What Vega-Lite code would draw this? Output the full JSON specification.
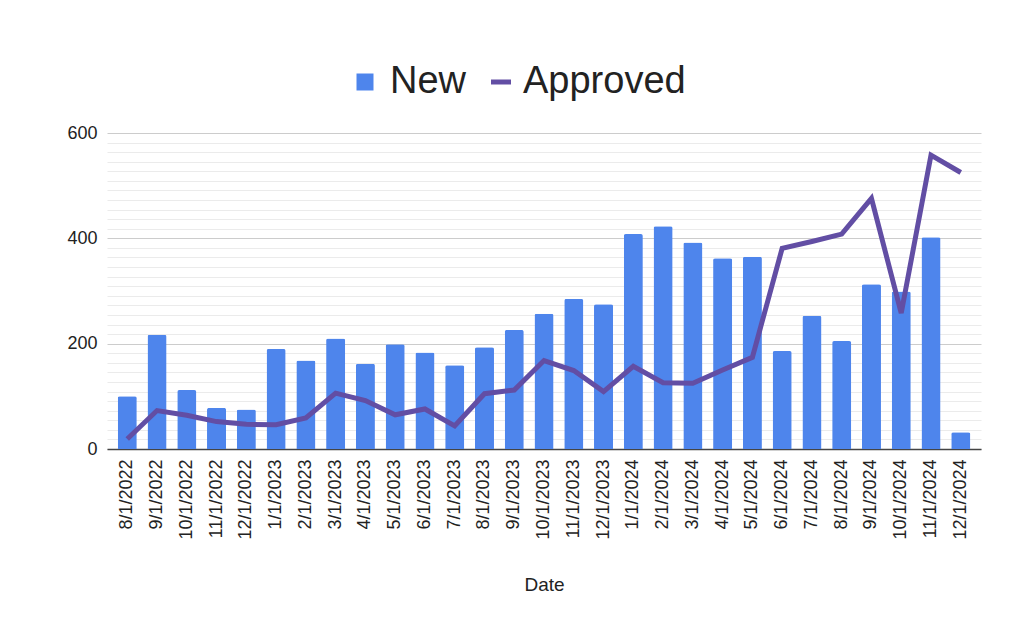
{
  "$schema": "https://vega.github.io/schema/vega-lite/v6.json",
  "width": 874,
  "height": 316,
  "autosize": {"type": "none"},
  "padding": {"left": 107, "top": 133, "right": 43, "bottom": 189},
  "background": "white",
  "data": {
    "values": [
      {"date": "8/1/2022", "New": 100, "Approved": 19},
      {"date": "9/1/2022", "New": 217, "Approved": 73},
      {"date": "10/1/2022", "New": 112, "Approved": 64},
      {"date": "11/1/2022", "New": 78, "Approved": 52},
      {"date": "12/1/2022", "New": 75, "Approved": 47},
      {"date": "1/1/2023", "New": 190, "Approved": 46},
      {"date": "2/1/2023", "New": 168, "Approved": 59},
      {"date": "3/1/2023", "New": 210, "Approved": 106},
      {"date": "4/1/2023", "New": 162, "Approved": 92},
      {"date": "5/1/2023", "New": 199, "Approved": 65},
      {"date": "6/1/2023", "New": 183, "Approved": 76},
      {"date": "7/1/2023", "New": 159, "Approved": 44},
      {"date": "8/1/2023", "New": 193, "Approved": 105},
      {"date": "9/1/2023", "New": 226, "Approved": 112},
      {"date": "10/1/2023", "New": 257, "Approved": 168},
      {"date": "11/1/2023", "New": 285, "Approved": 149},
      {"date": "12/1/2023", "New": 275, "Approved": 109},
      {"date": "1/1/2024", "New": 408, "Approved": 157},
      {"date": "2/1/2024", "New": 423, "Approved": 126},
      {"date": "3/1/2024", "New": 392, "Approved": 125},
      {"date": "4/1/2024", "New": 362, "Approved": 150},
      {"date": "5/1/2024", "New": 365, "Approved": 174},
      {"date": "6/1/2024", "New": 186, "Approved": 381},
      {"date": "7/1/2024", "New": 253, "Approved": 394},
      {"date": "8/1/2024", "New": 205, "Approved": 408},
      {"date": "9/1/2024", "New": 313, "Approved": 476},
      {"date": "10/1/2024", "New": 299, "Approved": 258},
      {"date": "11/1/2024", "New": 402, "Approved": 558},
      {"date": "12/1/2024", "New": 32, "Approved": 525}
    ]
  },
  "encoding": {
    "x": {
      "field": "date",
      "type": "ordinal",
      "sort": null,
      "title": "Date",
      "scale": {"paddingInner": 0.36, "paddingOuter": 0.36},
      "axis": {
        "labelAngle": 270,
        "labelAlign": "right",
        "labelBaseline": "middle",
        "labelPadding": 10,
        "labelFontSize": 18,
        "labelColor": "#222222",
        "ticks": false,
        "domainColor": "#444444",
        "domainWidth": 1.5,
        "titleFontSize": 19,
        "titleFontWeight": "normal",
        "titleColor": "#222222",
        "titlePadding": 36,
        "grid": false
      }
    }
  },
  "layer": [
    {
      "mark": {
        "type": "bar",
        "cornerRadiusTopLeft": 2,
        "cornerRadiusTopRight": 2
      },
      "encoding": {
        "y": {
          "field": "New",
          "type": "quantitative",
          "title": null,
          "scale": {"domain": [0, 600], "nice": false},
          "axis": {
            "domain": false,
            "ticks": false,
            "labelPadding": 10,
            "labelFontSize": 18,
            "labelColor": "#222222",
            "values": [0, 18.18, 36.36, 54.55, 72.73, 90.91, 109.09, 127.27, 145.45, 163.64, 181.82, 200, 218.18, 236.36, 254.55, 272.73, 290.91, 309.09, 327.27, 345.45, 363.64, 381.82, 400, 418.18, 436.36, 454.55, 472.73, 490.91, 509.09, 527.27, 545.45, 563.64, 581.82, 600],
            "labelExpr": "datum.value % 200 === 0 ? format(datum.value, 'd') : ''",
            "gridColor": {"condition": {"test": "datum.value % 200 === 0", "value": "#cccccc"}, "value": "#ebebeb"},
            "gridWidth": 1
          }
        },
        "fill": {
          "datum": "New",
          "scale": {"range": ["#4e85ec"]},
          "legend": {
            "title": null,
            "orient": "none",
            "legendX": 239,
            "legendY": -70,
            "symbolType": "square",
            "symbolSize": 289,
            "labelOffset": 6
          }
        }
      }
    },
    {
      "mark": {"type": "line", "strokeWidth": 5},
      "encoding": {
        "y": {
          "field": "Approved",
          "type": "quantitative",
          "title": null,
          "scale": {"domain": [0, 600], "nice": false},
          "axis": {
            "domain": false,
            "ticks": false,
            "labelPadding": 10,
            "labelFontSize": 18,
            "labelColor": "#222222",
            "values": [0, 18.18, 36.36, 54.55, 72.73, 90.91, 109.09, 127.27, 145.45, 163.64, 181.82, 200, 218.18, 236.36, 254.55, 272.73, 290.91, 309.09, 327.27, 345.45, 363.64, 381.82, 400, 418.18, 436.36, 454.55, 472.73, 490.91, 509.09, 527.27, 545.45, 563.64, 581.82, 600],
            "labelExpr": "datum.value % 200 === 0 ? format(datum.value, 'd') : ''",
            "gridColor": {"condition": {"test": "datum.value % 200 === 0", "value": "#cccccc"}, "value": "#ebebeb"},
            "gridWidth": 1
          }
        },
        "stroke": {
          "datum": "Approved",
          "scale": {"range": ["#624ea4"]},
          "legend": {
            "title": null,
            "orient": "none",
            "legendX": 375,
            "legendY": -70,
            "symbolType": "stroke",
            "symbolSize": 400,
            "symbolStrokeWidth": 5,
            "labelOffset": 3
          }
        }
      }
    }
  ],
  "config": {
    "font": "Liberation Sans",
    "view": {"stroke": null},
    "legend": {
      "labelFontSize": 38,
      "labelColor": "#222222",
      "labelLimit": 400,
      "padding": 0
    }
  }
}
